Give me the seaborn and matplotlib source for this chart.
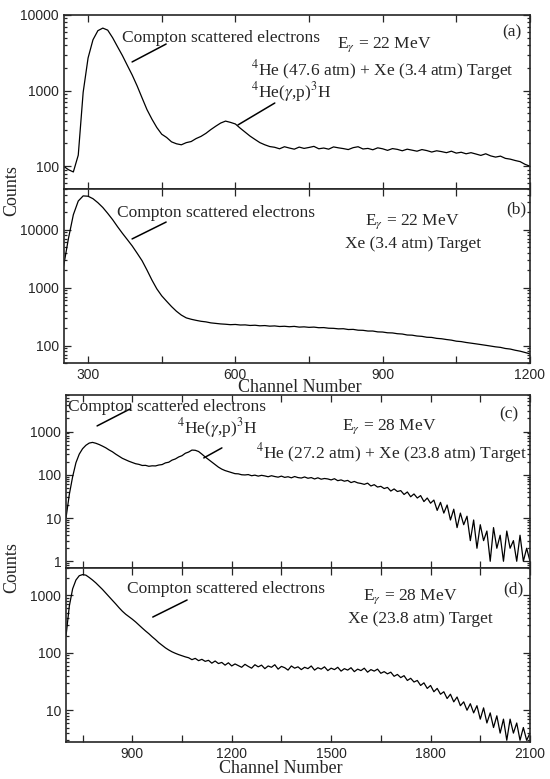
import matplotlib
matplotlib.use("Agg")
import matplotlib.pyplot as plt
import matplotlib.ticker as mticker
import numpy as np
import pandas as pd
import seaborn as sns

# channel grids (10-channel bins)
ch_ab = list(range(250, 1201, 10))
ch_cd = list(range(700, 2101, 10))

# (a) 4He + Xe, 22 MeV
counts_a = [100, 90, 84, 140, 950, 2700, 4700, 6200, 6700, 6300,
            5000, 3800, 2900, 2150, 1600, 1150, 800, 560, 420, 325,
            265, 240, 210, 198, 192, 205, 212, 232, 248, 272,
            305, 338, 372, 395, 380, 362, 318, 282, 250, 226,
            205, 192, 182,
            178, 170, 181, 174, 168, 179, 172, 177, 183, 170,
            174, 168, 180, 175, 171, 166, 176, 181, 169, 172,
            165, 175, 170, 162, 171, 167, 160, 168, 163, 158,
            166, 161, 154, 160, 156, 151, 158, 149, 153, 146,
            151, 145, 139, 146, 137, 132, 136, 127, 124, 119,
            115, 106, 100]

# (b) Xe only, 22 MeV
counts_b = [2300, 7000, 18000, 31000, 38000, 37500, 34000, 29000, 24000, 19000,
            14800, 11200, 8600, 6700, 5200, 3900, 2900, 2000, 1350, 950,
            720, 580, 470, 390, 335,
            300, 284, 272, 262, 256, 246, 241, 236, 233, 229,
            231, 226, 227, 222, 224, 219, 221, 216, 218, 213,
            215, 211, 214, 208, 210, 206, 208, 203, 204, 199,
            198, 194, 195, 189, 190, 184, 183, 178, 178, 172,
            171, 166, 165, 160, 158, 152, 151, 146, 144, 139,
            138, 133, 131, 127, 124, 119, 117, 113, 110, 107,
            104, 101, 98, 95, 93, 89, 87, 83, 80, 76,
            72]

# (c) 4He + Xe, 28 MeV
counts_c = [10, 35, 90, 190, 300, 400, 480, 540, 560, 535,
            500, 460, 420, 375, 340, 300, 268, 240, 222, 205,
            192, 180, 174, 164, 165, 157, 161, 160, 168, 172,
            188, 195, 218, 232, 258, 276, 314, 335, 372, 368,
            345, 300, 258, 225, 195, 170, 150, 135, 125, 118,
            112, 106, 105, 100, 99, 101, 95, 98, 93, 97,
            94, 90, 95, 91, 88, 93, 87, 90, 85, 91,
            86, 84, 89, 83, 86, 80, 85, 79, 82, 80,
            76, 81, 73, 76, 71, 74, 66, 70, 65, 63,
            60, 64, 55, 59, 52, 54, 48, 51, 42, 47,
            41, 43, 35, 40, 31, 36, 29, 33, 24, 29,
            22, 26, 15, 23, 13, 20, 9, 16, 6, 13,
            7, 11, 3, 9, 2, 7, 3, 5, 1, 6,
            2, 4, 1, 5, 2, 3, 1, 4, 1, 2,
            1]

# (d) Xe only, 28 MeV
counts_d = [195, 650, 1300, 1850, 2200, 2300, 2250, 2050, 1850, 1650,
            1450, 1270, 1100, 950, 820, 710, 610, 530, 470, 425,
            385, 345, 305, 270, 240, 215, 190, 170, 150, 135,
            122, 112, 104, 98, 93, 89, 85,
            82, 76, 80, 73, 77, 71, 74, 66, 72, 65,
            68, 61, 67, 59, 64, 60, 56, 63, 58, 54,
            62, 57, 61, 53, 59, 56, 62, 52, 58, 55,
            50, 59, 54, 57, 51, 56, 53, 59, 50, 55,
            52, 57, 49, 54, 51, 56, 48, 53, 50, 55,
            47, 52, 49, 54, 46, 51, 48, 52, 44, 47,
            43, 46, 39, 42, 37, 40, 33, 36, 31, 33,
            27, 30, 24, 27, 21, 24, 19, 21, 16, 19,
            14, 17, 12, 14, 10, 13, 9, 12, 7, 11,
            6, 9, 5, 8, 4, 7, 3, 7, 4, 6,
            3, 5, 3, 4]

sns.set_style("ticks")
plt.rcParams['font.family'] = ['Liberation Serif', 'DejaVu Serif']
plt.rcParams['mathtext.fontset'] = 'stix'

fig = plt.figure(figsize=(5.5, 7.79), dpi=100)

# [left, bottom, width, height] in figure fraction
ax_a = fig.add_axes([0.1155, 0.7574, 0.848, 0.2234])
ax_b = fig.add_axes([0.1155, 0.5340, 0.848, 0.2234])
ax_c = fig.add_axes([0.1200, 0.2709, 0.8436, 0.2221])
ax_d = fig.add_axes([0.1200, 0.0475, 0.8436, 0.2234])

panels = [
    (ax_a, ch_ab, counts_a, (250, 1200), (50, 10000), [100, 1000, 10000], False),
    (ax_b, ch_ab, counts_b, (250, 1200), (50, 50000), [100, 1000, 10000], True),
    (ax_c, ch_cd, counts_c, (700, 2100), (0.7, 7000), [1, 10, 100, 1000], False),
    (ax_d, ch_cd, counts_d, (700, 2100), (2.8, 3000), [10, 100, 1000], True),
]

for ax, ch, cnt, xl, yl, yt, show_x in panels:
    df = pd.DataFrame({"channel": ch, "counts": cnt})
    sns.lineplot(data=df, x="channel", y="counts", ax=ax, color="black", linewidth=0.9)
    ax.set_yscale("log")
    ax.set_xlim(*xl)
    ax.set_ylim(*yl)
    ax.set_yticks(yt)
    ax.set_yticklabels([str(v) for v in yt], family="Liberation Sans", fontsize=10)
    ax.yaxis.set_minor_locator(mticker.LogLocator(base=10, subs=np.arange(2, 10), numticks=20))
    ax.yaxis.set_minor_formatter(mticker.NullFormatter())
    ax.xaxis.set_major_locator(mticker.MultipleLocator(150))
    ax.xaxis.set_major_formatter(mticker.FuncFormatter(
        lambda v, p: (str(int(v)) if int(v) % 300 == 0 else "")))
    ax.tick_params(axis="both", which="both", direction="in", top=True, right=True,
                   labelsize=10, width=0.9)
    ax.tick_params(which="major", length=5)
    ax.tick_params(which="minor", length=2.5)
    if not show_x:
        ax.tick_params(axis="x", labelbottom=False)
    else:
        for lab in ax.get_xticklabels():
            lab.set_fontfamily("Liberation Sans")
    ax.set_xlabel("")
    ax.set_ylabel("")
    for s in ax.spines.values():
        s.set_linewidth(1.2)

fs = 12.5

def note_line(ax, x0, y0, x1, y1):
    ax.plot([x0, x1], [y0, y1], transform=ax.transAxes, color="black", lw=1.1)

# panel (a)
ax_a.text(0.125, 0.845, "Compton scattered electrons", transform=ax_a.transAxes, fontsize=fs, va="baseline")
note_line(ax_a, 0.147, 0.730, 0.220, 0.833)
ax_a.text(0.586, 0.810, r"E$_\gamma$ = 22 MeV", transform=ax_a.transAxes, fontsize=fs, va="baseline")
ax_a.text(0.983, 0.874, "(a)", transform=ax_a.transAxes, fontsize=fs, ha="right", va="baseline")
ax_a.text(0.402, 0.655, r"$^4$He (47.6 atm) + Xe (3.4 atm) Target", transform=ax_a.transAxes, fontsize=fs, va="baseline")
ax_a.text(0.402, 0.529, r"$^4$He($\gamma$,p)$^3$H", transform=ax_a.transAxes, fontsize=fs, va="baseline")
note_line(ax_a, 0.374, 0.368, 0.453, 0.494)

# panel (b)
ax_b.text(0.115, 0.839, "Compton scattered electrons", transform=ax_b.transAxes, fontsize=fs, va="baseline")
note_line(ax_b, 0.147, 0.713, 0.220, 0.810)
ax_b.text(0.747, 0.793, r"E$_\gamma$ = 22 MeV", transform=ax_b.transAxes, fontsize=fs, ha="center", va="baseline")
ax_b.text(0.749, 0.661, "Xe (3.4 atm) Target", transform=ax_b.transAxes, fontsize=fs, ha="center", va="baseline")
ax_b.text(0.993, 0.862, "(b)", transform=ax_b.transAxes, fontsize=fs, ha="right", va="baseline")

# panel (c)
ax_c.text(0.004, 0.908, "Compton scattered electrons", transform=ax_c.transAxes, fontsize=fs, va="baseline")
note_line(ax_c, 0.067, 0.821, 0.138, 0.919)
ax_c.text(0.239, 0.780, r"$^4$He($\gamma$,p)$^3$H", transform=ax_c.transAxes, fontsize=fs, va="baseline")
note_line(ax_c, 0.297, 0.636, 0.336, 0.694)
ax_c.text(0.595, 0.798, r"E$_\gamma$ = 28 MeV", transform=ax_c.transAxes, fontsize=fs, va="baseline")
ax_c.text(0.994, 0.636, r"$^4$He (27.2 atm) + Xe (23.8 atm) Target", transform=ax_c.transAxes, fontsize=fs, ha="right", va="baseline")
ax_c.text(0.974, 0.867, "(c)", transform=ax_c.transAxes, fontsize=fs, ha="right", va="baseline")

# panel (d)
ax_d.text(0.131, 0.856, "Compton scattered electrons", transform=ax_d.transAxes, fontsize=fs, va="baseline")
note_line(ax_d, 0.187, 0.718, 0.261, 0.816)
ax_d.text(0.741, 0.816, r"E$_\gamma$ = 28 MeV", transform=ax_d.transAxes, fontsize=fs, ha="center", va="baseline")
ax_d.text(0.763, 0.684, "Xe (23.8 atm) Target", transform=ax_d.transAxes, fontsize=fs, ha="center", va="baseline")
ax_d.text(0.985, 0.856, "(d)", transform=ax_d.transAxes, fontsize=fs, ha="right", va="baseline")

# shared axis labels
fig.text(0.022, 0.756, "Counts", rotation=90, fontsize=13, ha="center", va="center")
fig.text(0.022, 0.271, "Counts", rotation=90, fontsize=13, ha="center", va="center")
fig.text(0.545, 0.503, "Channel Number", fontsize=13, ha="center", va="center")
fig.text(0.511, 0.003, "Channel Number", fontsize=13, ha="center", va="bottom")

fig.savefig("out.png", dpi=100)
